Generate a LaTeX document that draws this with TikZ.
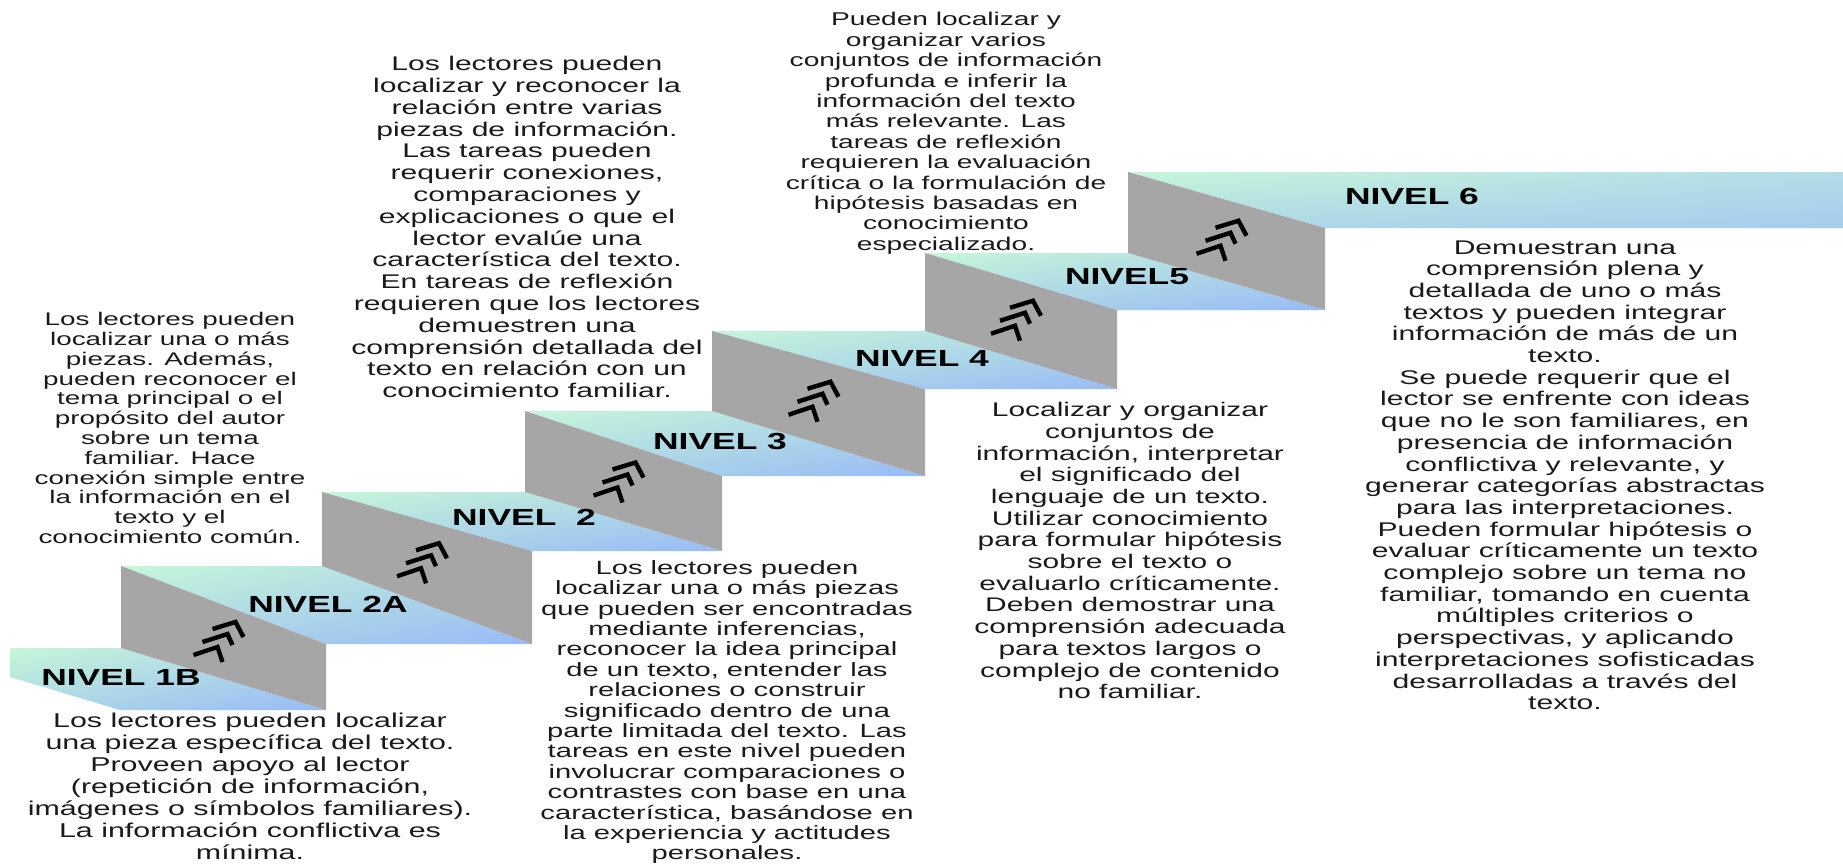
\documentclass[tikz,border=0pt]{standalone}
\usepackage{fontspec}
\setmainfont{Liberation Sans}[FakeStretch=1.52]
\usepackage{xcolor}
\usetikzlibrary{shadings}
\definecolor{mintg}{HTML}{C6F6DA}
\definecolor{midg}{HTML}{ADD9E6}
\definecolor{blueg}{HTML}{99BAF7}
\definecolor{midtop}{HTML}{B3DCE8}
\definecolor{bluetop}{HTML}{A6CCEE}
\definecolor{risergray}{HTML}{A6A6A6}
\definecolor{textdark}{HTML}{1A1A1A}

\begin{document}
\begin{tikzpicture}[x=0.5pt, y=-0.5pt,
    riser/.style={fill=risergray},
    tread/.style={upper left=mintg, upper right=midg, lower left=midg, lower right=blueg},
    lvl/.style={font=\fontsize{11.65}{13}\selectfont\bfseries, text=black, inner sep=0pt},
    desc/.style={align=center, anchor=north, inner sep=0pt, text=textdark},
    chev/.style={line width=2.2pt, line join=miter, black}]
    \useasboundingbox (0,0) rectangle (1843,863);

    % treads
    \shade[tread] (10,648) -- (121,648) -- (326,710) -- (120,710) -- (10,677) -- cycle;
    \foreach \tl/\tr/\br/\bl/\yt/\yb in {
      121/322/532/326/566/644,
      322/525/722/532/492/551,
      525/712/925/722/411/476,
      712/925/1117/925/331/389,
      925/1128/1325/1117/253/310%
    }{
      \shade[tread] (\tl,\yt) -- (\tr,\yt) -- (\br,\yb) -- (\bl,\yb) -- cycle;
    }
    \shade[tread, upper right=midtop, lower right=bluetop] (1128,172) -- (1843,172) -- (1843,228) -- (1325,228) -- cycle;

    % risers with the stacked chevrons
    \foreach \gl/\gr/\ytl/\ytr/\ybr/\ybl in {
      121/326/566/644/710/648,
      322/532/492/551/644/566,
      525/722/411/476/551/492,
      712/925/331/389/476/411,
      925/1117/253/310/389/331,
      1128/1325/172/228/310/253%
    }{
      \fill[riser] (\gl,\ytl) -- (\gr,\ytr) -- (\gr,\ybr) -- (\gl,\ybl) -- cycle;
      \draw[chev, shift={({(\gl+\gr)/2-5},{(\ytl+\ytr+\ybr+\ybl)/4})}]
        (-6,-13) -- (17,-20) -- (25,-5)
        (-16,0) -- (9,-8) -- (14,3)
        (-25,13) -- (-1,5) -- (4,20);
    }

    % level names
    \node[lvl] (n1B) at (121,677) {NIVEL 1B};
    \node[lvl] (n2A) at (328,604) {NIVEL 2A};
    \node[lvl] (n2) at (524,517) {NIVEL\ \ 2};
    \node[lvl] (n3) at (720,441) {NIVEL 3};
    \node[lvl] (n4) at (922,358) {NIVEL 4};
    \node[lvl] (n5) at (1127,277) {NIVEL5};
    \node[lvl] (n6) at (1412,196) {NIVEL 6};

    % descriptions
    \foreach \nm/\x/\y/\fs/\lh/\txt in {
      1B/250/713/10/11/{Los lectores pueden localizar\\una pieza específica del texto.\\Proveen apoyo al lector\\(repetición de información,\\imágenes o símbolos familiares).\\La información conflictiva es\\mínima.},
      2A/170/312/9.15/9.9/{Los lectores pueden\\localizar una o más\\piezas. Además,\\pueden reconocer el\\tema principal o el\\propósito del autor\\sobre un tema\\familiar. Hace\\conexión simple entre\\la información en el\\texto y el\\conocimiento común.},
      2/727/560/9.6/10.2/{Los lectores pueden\\localizar una o más piezas\\que pueden ser encontradas\\mediante inferencias,\\reconocer la idea principal\\de un texto, entender las\\relaciones o construir\\significado dentro de una\\parte limitada del texto. Las\\tareas en este nivel pueden\\involucrar comparaciones o\\contrastes con base en una\\característica, basándose en\\la experiencia y actitudes\\personales.},
      3/527/56/9.9/10.9/{Los lectores pueden\\localizar y reconocer la\\relación entre varias\\piezas de información.\\Las tareas pueden\\requerir conexiones,\\comparaciones y\\explicaciones o que el\\lector evalúe una\\característica del texto.\\En tareas de reflexión\\requieren que los lectores\\demuestren una\\comprensión detallada del\\texto en relación con un\\conocimiento familiar.},
      5/946/12/9.25/10.2/{Pueden localizar y\\organizar varios\\conjuntos de información\\profunda e inferir la\\información del texto\\más relevante. Las\\tareas de reflexión\\requieren la evaluación\\crítica o la formulación de\\hipótesis basadas en\\conocimiento\\especializado.},
      4/1130/402/9.85/10.85/{Localizar y organizar\\conjuntos de\\información, interpretar\\el significado del\\lenguaje de un texto.\\Utilizar conocimiento\\para formular hipótesis\\sobre el texto o\\evaluarlo críticamente.\\Deben demostrar una\\comprensión adecuada\\para textos largos o\\complejo de contenido\\no familiar.},
      6/1565/240/9.9/10.85/{Demuestran una\\comprensión plena y\\detallada de uno o más\\textos y pueden integrar\\información de más de un\\texto.\\Se puede requerir que el\\lector se enfrente con ideas\\que no le son familiares, en\\presencia de información\\conflictiva y relevante, y\\generar categorías abstractas\\para las interpretaciones.\\Pueden formular hipótesis o\\evaluar críticamente un texto\\complejo sobre un tema no\\familiar, tomando en cuenta\\múltiples criterios o\\perspectivas, y aplicando\\interpretaciones sofisticadas\\desarrolladas a través del\\texto.}%
    }{
      \node[desc, font=\fontsize{\fs}{\lh}\selectfont] (d\nm) at (\x,\y) {\txt};
    }
\end{tikzpicture}
\end{document}
